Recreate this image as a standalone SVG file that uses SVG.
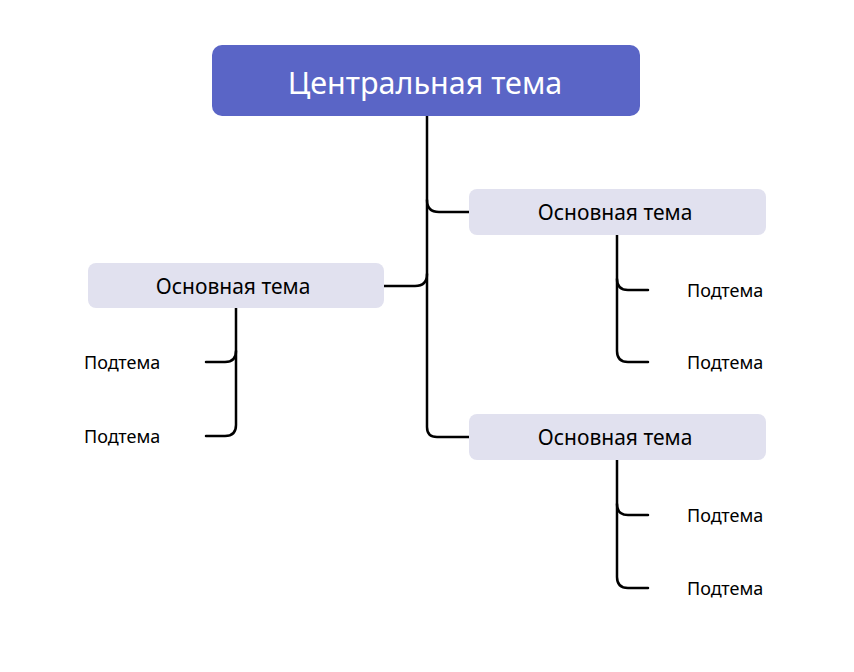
<svg xmlns="http://www.w3.org/2000/svg" width="854" height="672" viewBox="0 0 854 672">
<style>
.c{fill:none;stroke:#000;stroke-width:2.5;stroke-linecap:round;stroke-linejoin:round}
.m{fill:#e1e1ef}
.t{font-family:"Noto Sans","Open Sans",sans-serif;fill:#000}
.mt{font-size:21px;text-anchor:middle}
.st{font-size:18px}
</style>
<rect width="854" height="672" fill="#fff"/>
<g id="connectors">
<path class="c" d="M427,116 V427 Q427,437 437,437 H469"/>
<path class="c" d="M427,200 Q427,212 439,212 H469"/>
<path class="c" d="M384,286 H415 Q427,286 427,274"/>
<path class="c" d="M617,235 V351 Q617,362 628,362 H648"/>
<path class="c" d="M617,279 Q617,290 628,290 H648"/>
<path class="c" d="M236,308 V425 Q236,436 225,436 H206"/>
<path class="c" d="M236,351 Q236,362 225,362 H206"/>
<path class="c" d="M617,460 V577 Q617,588 628,588 H648"/>
<path class="c" d="M617,504 Q617,515 628,515 H648"/>
</g>
<g id="central"><rect x="212" y="45" width="428" height="71" rx="10" fill="#5a65c6"/><text class="t" x="425" y="94" font-size="30.5" text-anchor="middle" style="fill:#fff">Центральная тема</text></g>
<g id="main1"><rect class="m" x="469" y="189" width="297" height="46" rx="8"/><text class="t mt" x="615" y="220">Основная тема</text></g>
<g id="main2"><rect class="m" x="88" y="263" width="296" height="45" rx="8"/><text class="t mt" x="233" y="294">Основная тема</text></g>
<g id="main3"><rect class="m" x="469" y="414" width="297" height="46" rx="8"/><text class="t mt" x="615" y="445">Основная тема</text></g>
<g id="s1"><text class="t st" x="687" y="297">Подтема</text></g>
<g id="s2"><text class="t st" x="687" y="369">Подтема</text></g>
<g id="s3"><text class="t st" x="84" y="369">Подтема</text></g>
<g id="s4"><text class="t st" x="84" y="443">Подтема</text></g>
<g id="s5"><text class="t st" x="687" y="522">Подтема</text></g>
<g id="s6"><text class="t st" x="687" y="595">Подтема</text></g>
</svg>
